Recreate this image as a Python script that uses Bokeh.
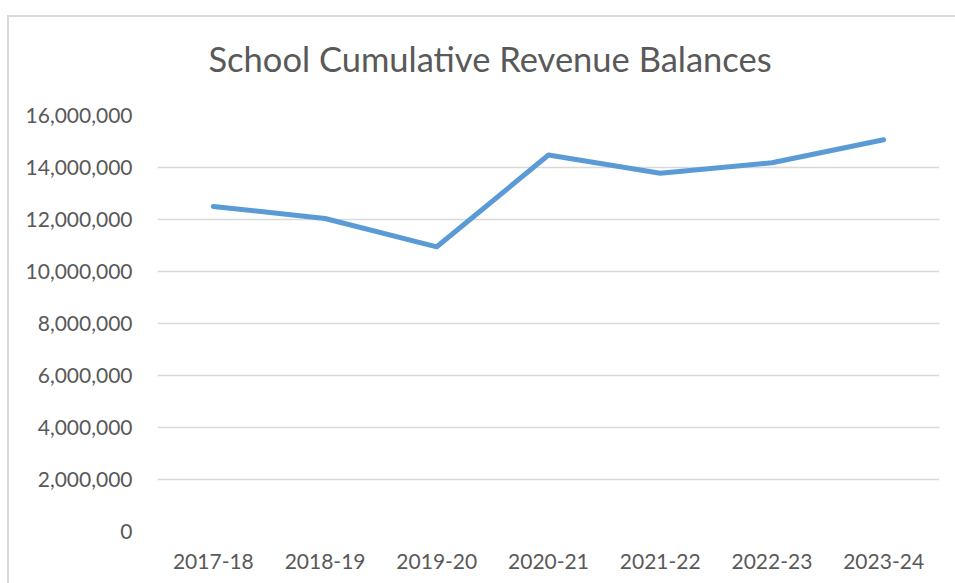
from bokeh.plotting import figure
from bokeh.models import FactorRange, Range1d, NumeralTickFormatter, FixedTicker
from bokeh.embed import file_html
from bokeh.resources import INLINE

years = ["2017-18", "2018-19", "2019-20", "2020-21", "2021-22", "2022-23", "2023-24"]
balances = [12500000, 12040000, 10950000, 14480000, 13780000, 14180000, 15070000]
y_ticks = [0, 2000000, 4000000, 6000000, 8000000, 10000000, 12000000, 14000000, 16000000]
title_text = "School Cumulative Revenue Balances"

FONT = "Lato"
TXT = "#595959"
GRID = "#d9d9d9"

p = figure(x_range=FactorRange(*years), y_range=Range1d(0, 16000000),
           width=948, height=584, frame_width=782, frame_height=416,
           min_border_left=150, min_border_right=16, min_border_top=116, min_border_bottom=52,
           output_backend="svg", toolbar_location=None, tools="",
           title=title_text)
# chart-area frame (light grey top and left edges) drawn behind a transparent canvas border
p.styles = {"margin-left": "7px", "margin-top": "-1px",
            "background-color": "white",
            "background-image": "linear-gradient(#d9d9d9, #d9d9d9), linear-gradient(#d9d9d9, #d9d9d9)",
            "background-position": "0px 16px, 0px 16px",
            "background-size": "2px 100%, 100% 2px",
            "background-repeat": "no-repeat"}
p.outline_line_color = None
p.background_fill_color = "white"
p.border_fill_alpha = 0

p.title.text_font = FONT
p.title.text_font_size = "34.5px"
p.title.text_font_style = "normal"
p.title.text_color = TXT
p.title.align = "left"
p.title.offset = 51
p.title.standoff = 73

p.line(years, balances, line_color="#5B9BD5", line_width=5, line_join="round", line_cap="round")

p.yaxis.ticker = FixedTicker(ticks=y_ticks)
p.yaxis.formatter = NumeralTickFormatter(format="0,0")
for ax in (p.xaxis[0], p.yaxis[0]):
    ax.axis_line_color = None
    ax.major_tick_line_color = None
    ax.minor_tick_line_color = None
    ax.major_label_text_font = FONT
    ax.major_label_text_font_size = "21px"
    ax.major_label_text_color = TXT
p.yaxis.major_label_standoff = 19
p.xaxis.major_label_standoff = 16

p.xgrid.grid_line_color = None
p.ygrid.grid_line_color = GRID
p.ygrid.grid_line_width = 1.5

open("out.html", "w").write(file_html(p, INLINE))
